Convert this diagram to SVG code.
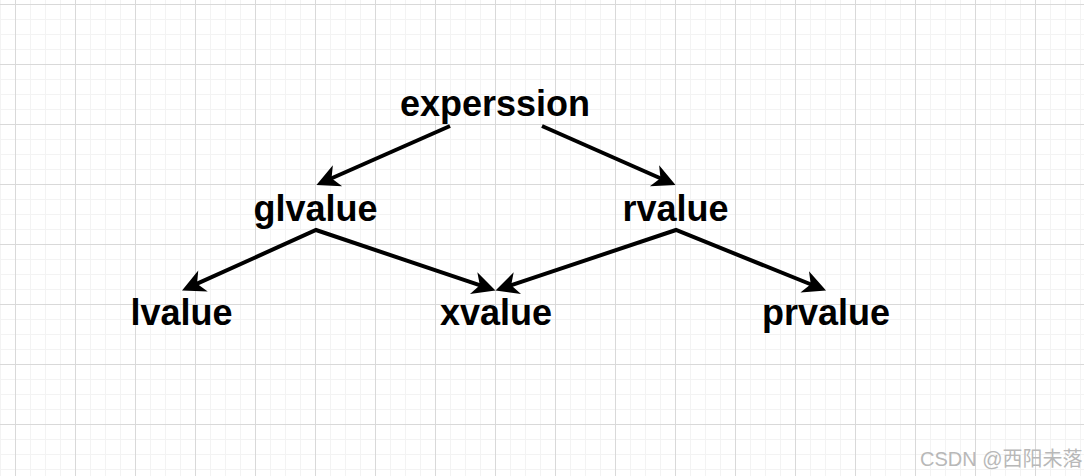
<svg xmlns="http://www.w3.org/2000/svg" width="1084" height="476" viewBox="0 0 1084 476">
  <style>
    .lbl { font-family: "Liberation Sans", Arial, sans-serif; font-weight: bold; font-size: 36px; fill: #000; text-anchor: middle; }
    .edge { fill: none; stroke: #000; stroke-width: 4; stroke-linejoin: miter; stroke-miterlimit: 10; }
    .wm { font-family: "Liberation Sans", "Noto Sans CJK SC", sans-serif; font-size: 20px; fill: #b8b8b8; }
  </style>
  <defs>
    <pattern id="grid" patternUnits="userSpaceOnUse" x="15" y="4" width="60" height="60">
      <rect x="15" y="0" width="1" height="60" fill="#f3f3f3"/>
      <rect x="30" y="0" width="1" height="60" fill="#f3f3f3"/>
      <rect x="45" y="0" width="1" height="60" fill="#f3f3f3"/>
      <rect x="0" y="15" width="60" height="1" fill="#f3f3f3"/>
      <rect x="0" y="30" width="60" height="1" fill="#f3f3f3"/>
      <rect x="0" y="45" width="60" height="1" fill="#f3f3f3"/>
      <rect x="0" y="0" width="1" height="60" fill="#d9d9d9"/>
      <rect x="0" y="0" width="60" height="1" fill="#d9d9d9"/>
    </pattern>
    <marker id="arrow" markerUnits="userSpaceOnUse" viewBox="-25 -13 27 26" markerWidth="27" markerHeight="26" refX="-16" refY="0" orient="auto-start-reverse">
      <path d="M0,0 L-23,-11.5 L-16.5,0 L-23,11.5 Z" fill="#000"/>
    </marker>
  </defs>
  <rect width="1084" height="476" fill="#ffffff"/>
  <rect width="1084" height="476" fill="url(#grid)"/>

  <g id="connectors">
    <path class="edge" d="M331.1,178.5 L450,126" marker-start="url(#arrow)"/>
    <path class="edge" d="M542,126 L660.9,178.5" marker-end="url(#arrow)"/>
    <path class="edge" d="M196.6,283.9 L316,230 L480.3,285.4" marker-start="url(#arrow)" marker-end="url(#arrow)"/>
    <path class="edge" d="M510.7,285.4 L676,230 L811.2,284.5" marker-start="url(#arrow)" marker-end="url(#arrow)"/>
  </g>

  <g id="node-experssion"><text class="lbl" x="495" y="116">experssion</text></g>
  <g id="node-glvalue"><text class="lbl" x="315.5" y="221">glvalue</text></g>
  <g id="node-rvalue"><text class="lbl" x="675.5" y="221">rvalue</text></g>
  <g id="node-lvalue"><text class="lbl" x="181.5" y="325">lvalue</text></g>
  <g id="node-xvalue"><text class="lbl" x="496" y="325">xvalue</text></g>
  <g id="node-prvalue"><text class="lbl" x="826" y="325">prvalue</text></g>

  <text class="wm" x="920" y="466">CSDN @西阳未落</text>
</svg>
